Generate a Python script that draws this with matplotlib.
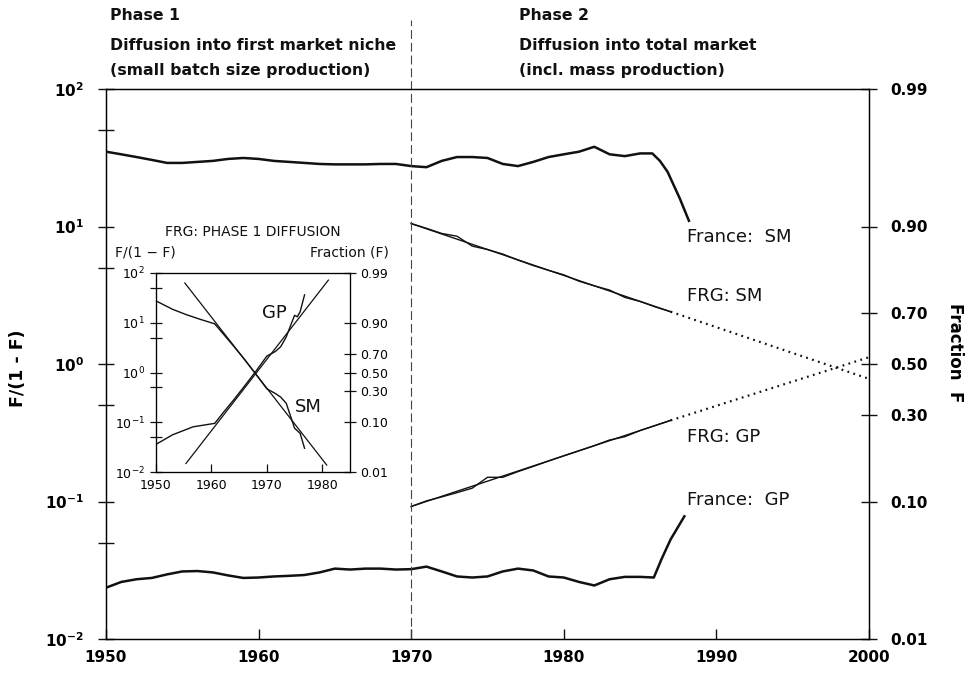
import matplotlib
matplotlib.use("Agg")
import matplotlib.pyplot as plt
from matplotlib.ticker import FixedLocator, NullFormatter, NullLocator

W, H = 969, 673

# ---- main chart: F/(1-F) values ----
fr_sm_years = [1950, 1951, 1952, 1953, 1954, 1955, 1956, 1957, 1958, 1959, 1960,
               1961, 1962, 1963, 1964, 1965, 1966, 1967, 1968, 1969, 1970, 1971,
               1972, 1973, 1974, 1975, 1976, 1977, 1978, 1979, 1980, 1981, 1982,
               1983, 1984, 1985, 1985.8, 1986.3, 1986.8, 1987.6, 1988.2]
fr_sm = [35, 33.5, 32, 30.5, 29, 29, 29.5, 30, 31, 31.5, 31,
         30, 29.5, 29, 28.5, 28.3, 28.3, 28.3, 28.5, 28.5, 27.5, 27,
         30, 32, 32, 31.5, 28.5, 27.5, 29.5, 32, 33.5, 35, 38,
         33.5, 32.5, 34, 34, 30, 25, 16, 11]

fr_gp_years = [1950, 1951, 1952, 1953, 1954, 1955, 1956, 1957, 1958, 1959, 1960,
               1961, 1962, 1963, 1964, 1965, 1966, 1967, 1968, 1969, 1970, 1971,
               1972, 1973, 1974, 1975, 1976, 1977, 1978, 1979, 1980, 1981, 1982,
               1983, 1984, 1985, 1985.9, 1986.4, 1987, 1987.9]
fr_gp = [0.0236, 0.026, 0.0272, 0.0278, 0.0295, 0.031, 0.0312, 0.0305, 0.029, 0.0278, 0.028,
         0.0285, 0.0288, 0.0292, 0.0305, 0.0325, 0.032, 0.0325, 0.0325, 0.032, 0.0322, 0.0336,
         0.031, 0.0285, 0.028, 0.0285, 0.031, 0.0325, 0.0315, 0.0285, 0.028, 0.026, 0.0245,
         0.0272, 0.0283, 0.0283, 0.028, 0.038, 0.053, 0.078]

frg_years = [1970, 1971, 1972, 1973, 1974, 1975, 1976, 1977, 1978, 1979, 1980,
             1981, 1982, 1983, 1984, 1985, 1986, 1987]
frg_sm = [10.5, 9.7, 8.9, 8.5, 7.2, 6.8, 6.3, 5.7, 5.2, 4.8, 4.45,
          4.0, 3.7, 3.45, 3.05, 2.85, 2.6, 2.4]
frg_gp = [0.092, 0.101, 0.108, 0.116, 0.125, 0.150, 0.150, 0.165, 0.18, 0.197, 0.215,
          0.234, 0.255, 0.28, 0.296, 0.328, 0.357, 0.389]

# logistic fits (straight on log scale) and their extrapolation
fit_years = [1970, 1987]
frg_sm_fit = [10.5, 2.4]
frg_gp_fit = [0.092, 0.389]
ext_years = [1987, 2000]
frg_sm_ext = [2.4, 0.78]
frg_gp_ext = [0.389, 1.12]

left_ticks = [100, 10, 1, 0.1, 0.01]
left_labels = [r'$\mathbf{10^{2}}$', r'$\mathbf{10^{1}}$', r'$\mathbf{10^{0}}$',
               r'$\mathbf{10^{-1}}$', r'$\mathbf{10^{-2}}$']
left_minor = [50, 5, 0.5, 0.05]
right_ticks = [100, 10, 7 / 3, 1, 3 / 7, 0.1, 0.01]
right_labels = ['0.99', '0.90', '0.70', '0.50', '0.30', '0.10', '0.01']
x_ticks = [1950, 1960, 1970, 1980, 1990, 2000]

# ---- inset: FRG phase 1 ----
in_sm_years = [1950, 1953, 1955.5, 1958, 1960.6, 1962, 1964, 1966, 1968, 1970,
               1971.5, 1972.5, 1973.5, 1974.3, 1975, 1976, 1976.8]
in_sm = [27.5, 18.6, 14.5, 11.7, 9.5, 6.2, 3.4, 1.82, 0.93, 0.47,
         0.38, 0.32, 0.24, 0.13, 0.076, 0.060, 0.030]
in_gp_years = [1950, 1953, 1956.7, 1960.6, 1962, 1964, 1966, 1968, 1970, 1971.5,
               1972.5, 1973.5, 1974.3, 1975, 1975.5, 1976, 1976.8]
in_gp = [0.036, 0.056, 0.081, 0.095, 0.15, 0.28, 0.54, 1.05, 2.14, 2.63,
         3.3, 5.2, 8.9, 14.1, 13.2, 16.6, 36.3]
in_sm_fit_years = [1955.2, 1980.8]
in_sm_fit = [63, 0.0138]
in_gp_fit_years = [1955.4, 1981.1]
in_gp_fit = [0.0148, 72]
in_x_ticks = [1950, 1960, 1970, 1980]
in_left_labels = [r'$\mathrm{10^{2}}$', r'$\mathrm{10^{1}}$', r'$\mathrm{10^{0}}$',
                  r'$\mathrm{10^{-1}}$', r'$\mathrm{10^{-2}}$']


def fx(x):
    return x / W


def fy(y):
    return 1 - y / H


plt.rcParams['font.family'] = ['DejaVu Sans']
fig = plt.figure(figsize=(W / 100, H / 100), dpi=100)
fig.patch.set_facecolor('white')

ax = fig.add_axes([fx(106), fy(639), fx(869) - fx(106), fy(89) - fy(639)])
ax.set_yscale('log')
ax.set_xlim(1950, 2000)
ax.set_ylim(0.01, 100)

ink = '#111111'
ax.plot(fr_sm_years, fr_sm, color=ink, lw=1.8)
ax.plot(fr_gp_years, fr_gp, color=ink, lw=1.8)
ax.plot(frg_years, frg_sm, color=ink, lw=1.0)
ax.plot(frg_years, frg_gp, color=ink, lw=1.0)
ax.plot(fit_years, frg_sm_fit, color=ink, lw=1.0)
ax.plot(fit_years, frg_gp_fit, color=ink, lw=1.0)
ax.plot(ext_years, frg_sm_ext, color=ink, lw=1.6, ls=(0, (0.8, 2.0)))
ax.plot(ext_years, frg_gp_ext, color=ink, lw=1.6, ls=(0, (0.8, 2.0)))
ax.axvline(1970, ymin=0, ymax=1.125, clip_on=False, color='#444444', lw=0.8,
           dashes=(8, 3.5))

lbl = dict(fontsize=13, va='center', ha='left', color=ink)
ax.text(1988.1, 8.35, 'France:  SM', **lbl)
ax.text(1988.1, 3.1, 'FRG: SM', **lbl)
ax.text(1988.1, 0.296, 'FRG: GP', **lbl)
ax.text(1988.1, 0.103, 'France:  GP', **lbl)

ax.set_xticks(x_ticks)
ax.set_xticklabels([str(t) for t in x_ticks], fontsize=11, fontweight='bold')
ax.yaxis.set_major_locator(FixedLocator(left_ticks))
ax.set_yticklabels(left_labels, fontsize=11)
ax.yaxis.set_minor_locator(FixedLocator(left_minor))
ax.yaxis.set_minor_formatter(NullFormatter())
ax.tick_params(axis='y', which='both', direction='inout', length=12, width=1,
               pad=10, color=ink)
ax.tick_params(axis='x', direction='in', length=7, width=1, pad=8, color=ink)
for s in ax.spines.values():
    s.set_linewidth(1.0)
    s.set_color(ink)

axr = ax.twinx()
axr.set_yscale('log')
axr.set_ylim(0.01, 100)
axr.yaxis.set_major_locator(FixedLocator(right_ticks))
axr.set_yticklabels(right_labels, fontsize=11, fontweight='bold')
axr.yaxis.set_minor_locator(NullLocator())
axr.tick_params(axis='y', direction='inout', length=12, width=1, pad=9, color=ink)

fig.text(fx(18), fy(368), 'F/(1 - F)', rotation=90, fontsize=12.5, fontweight='bold',
         ha='center', va='center')
fig.text(fx(955), fy(353), 'Fraction  F', rotation=-90, fontsize=12, fontweight='bold',
         ha='center', va='center')

hdr = dict(fontsize=11.3, fontweight='bold', ha='left', va='center', color=ink)
fig.text(fx(110), fy(15), 'Phase 1', **hdr)
fig.text(fx(110), fy(45), 'Diffusion into first market niche', **hdr)
fig.text(fx(110), fy(70), '(small batch size production)', **hdr)
fig.text(fx(519), fy(15), 'Phase 2', **hdr)
fig.text(fx(519), fy(45), 'Diffusion into total market', **hdr)
fig.text(fx(519), fy(70), '(incl. mass production)', **hdr)

# ---- inset ----
ins = fig.add_axes([fx(156), fy(472), fx(350) - fx(156), fy(273) - fy(472)])
ins.set_facecolor('white')
ins.set_yscale('log')
ins.set_xlim(1950, 1985)
ins.set_ylim(0.01, 100)
ins.plot(in_sm_years, in_sm, color=ink, lw=1.0)
ins.plot(in_gp_years, in_gp, color=ink, lw=1.0)
ins.plot(in_sm_fit_years, in_sm_fit, color=ink, lw=0.9)
ins.plot(in_gp_fit_years, in_gp_fit, color=ink, lw=0.9)
ins.text(1969.1, 15.7, 'GP', fontsize=13, ha='left', va='center', color=ink)
ins.text(1975.0, 0.2, 'SM', fontsize=13, ha='left', va='center', color=ink)

ins.set_xticks(in_x_ticks)
ins.set_xticklabels([str(t) for t in in_x_ticks], fontsize=9)
ins.yaxis.set_major_locator(FixedLocator(left_ticks))
ins.set_yticklabels(in_left_labels, fontsize=9)
ins.yaxis.set_minor_locator(FixedLocator(left_minor))
ins.yaxis.set_minor_formatter(NullFormatter())
ins.tick_params(axis='y', which='both', direction='inout', length=8, width=0.9,
                pad=4, color=ink)
ins.tick_params(axis='x', direction='in', length=6, width=0.9, pad=5, color=ink)
for s in ins.spines.values():
    s.set_linewidth(0.9)
    s.set_color(ink)

insr = ins.twinx()
insr.set_yscale('log')
insr.set_ylim(0.01, 100)
insr.yaxis.set_major_locator(FixedLocator(right_ticks))
insr.set_yticklabels(right_labels, fontsize=9)
insr.yaxis.set_minor_locator(NullLocator())
insr.tick_params(axis='y', direction='inout', length=8, width=0.9, pad=3, color=ink)

fig.text(fx(253), fy(232), 'FRG: PHASE 1 DIFFUSION', fontsize=10, ha='center',
         va='center', color=ink)
fig.text(fx(115), fy(252), 'F/(1 \u2212 F)', fontsize=10, ha='left', va='center', color=ink)
fig.text(fx(389), fy(252), 'Fraction (F)', fontsize=10, ha='right', va='center', color=ink)

fig.savefig('out.png', dpi=100, facecolor='white')
